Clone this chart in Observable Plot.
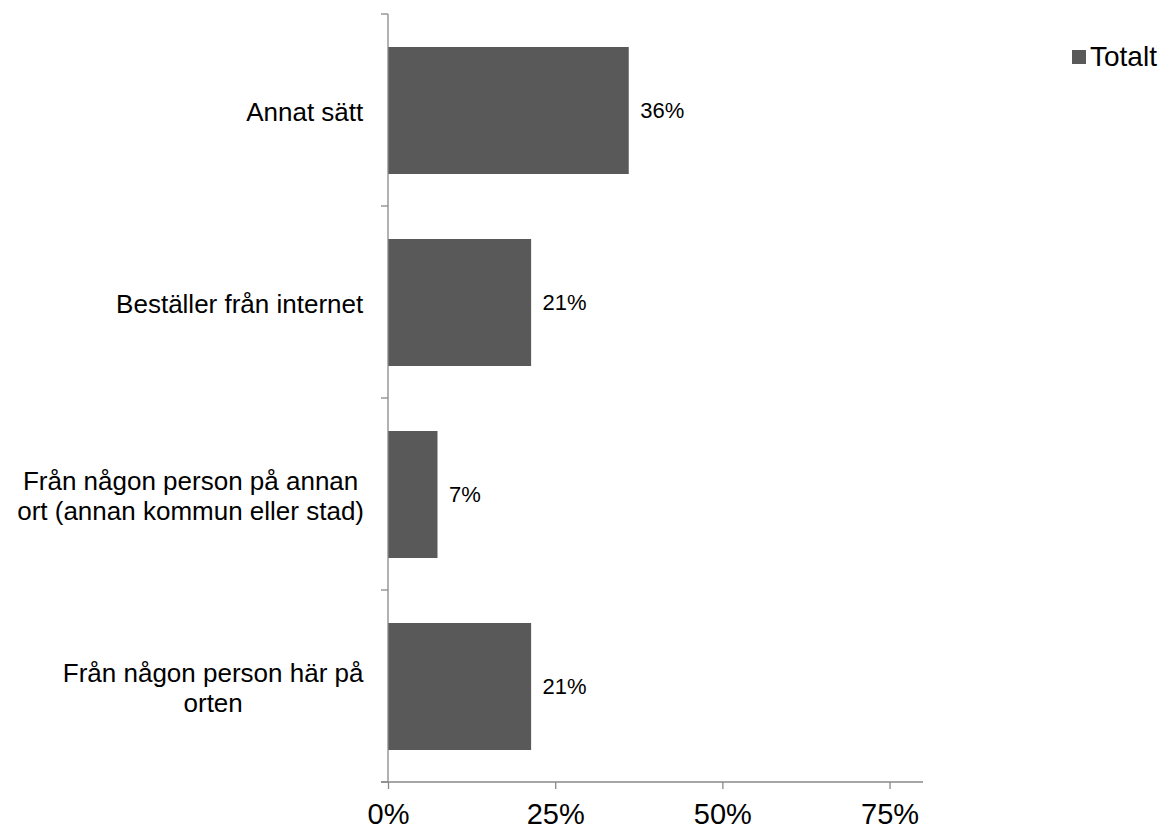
<!DOCTYPE html>
<html>
<head>
<meta charset="utf-8">
<script src="https://cdn.jsdelivr.net/npm/d3@7"></script>
<script src="https://cdn.jsdelivr.net/npm/@observablehq/plot@0.6"></script>
<style>
  html, body { margin: 0; padding: 0; background: #fff; }
  #wrap { position: relative; width: 1160px; height: 834px; font-family: "Liberation Sans", Arial, sans-serif; }
  #legend { position: absolute; left: 1072px; top: 40px; }
  #legend svg { margin-right: 4px !important; }
</style>
</head>
<body>
<div id="wrap"><div id="legend"></div></div>
<script>
// ---- data ----
const categories = [
  "Annat sätt",
  "Beställer från internet",
  "Från någon person på annan\nort (annan kommun eller stad)",
  "Från någon person här på\norten"
];
const values = [0.36, 0.214, 0.074, 0.214];
const valueLabels = ["36%", "21%", "7%", "21%"];
const xTicks = [0, 0.25, 0.5, 0.75];
const xTickLabels = ["0%", "25%", "50%", "75%"];
const seriesName = "Totalt";
const xDomain = [0, 0.8];

// ---- styles ----
const barColor = "#595959";
const axisColor = "#898989";
const fontFamily = "'Liberation Sans', Arial, sans-serif";

const data = categories.map((c, i) => ({cat: c, value: values[i], label: valueLabels[i]}));

// y-axis line, boundary ticks and x baseline drawn from the chart's own scales/frame
function frameTicks(index, scales, values, dimensions) {
  const {x} = scales;
  const {height, marginTop, marginBottom} = dimensions;
  const top = marginTop, bottom = height - marginBottom;
  const n = categories.length;
  const edges = d3.range(n + 1).map(i => top + i * (bottom - top) / n);
  const x0 = x(xDomain[0]);
  const g = d3.create("svg:g").attr("stroke", axisColor).attr("stroke-width", 1.3).attr("fill", "none");
  g.append("line").attr("x1", x0).attr("x2", x0).attr("y1", top).attr("y2", bottom);
  g.selectAll(".yt").data(edges).join("line").attr("x1", x0 - 7).attr("x2", x0).attr("y1", d => d).attr("y2", d => d);
  g.append("line").attr("x1", x0 - 7).attr("x2", x(xDomain[1])).attr("y1", bottom).attr("y2", bottom);
  return g.node();
}

const tickFmt = d => xTickLabels[xTicks.indexOf(d)];

const chart = Plot.plot({
  width: 1160,
  height: 834,
  marginLeft: 388,
  marginRight: 237,
  marginTop: 14,
  marginBottom: 52,
  style: {fontFamily, fontSize: "28px", color: "#000", background: "#fff"},
  x: {domain: xDomain, axis: null, label: null},
  y: {domain: categories, paddingInner: 0.34, paddingOuter: 0.17, axis: null, label: null},
  marks: [
    Plot.barX(data, {x: "value", y: "cat", fill: barColor}),
    frameTicks,
    Plot.axisX(xTicks, {tickSize: 7, tickPadding: 14, tickFormat: tickFmt, stroke: axisColor, strokeWidth: 1.3, fill: "#000", fontSize: 29, label: null}),
    Plot.text(data, {x: "value", y: "cat", text: "label", dx: 11, textAnchor: "start", fontSize: 22, fill: "#000"}),
    Plot.text(data, {x: 0, y: "cat", text: "cat", textAnchor: "middle", lineHeight: 1.15, fontSize: 26, fill: "#000"})
  ]
});

document.getElementById("wrap").insertBefore(chart, document.getElementById("legend"));

// right-align each category block (lines centered within the block), like the original
const svgRect = chart.getBoundingClientRect();
const rightEdge = 364;
const flatCats = categories.map(c => c.replace(/\n/g, ""));
d3.select(chart).selectAll("text").each(function() {
  if (!flatCats.includes(this.textContent)) return;
  const r = this.getBoundingClientRect();
  const shift = rightEdge - (r.right - svgRect.left);
  const t = this.getAttribute("transform") || "";
  this.setAttribute("transform", (t + ` translate(${shift},0)`).trim());
});

const legend = Plot.legend({
  color: {type: "ordinal", domain: [seriesName], range: [barColor]},
  legend: "swatches",
  swatchSize: 14,
  style: {fontFamily, fontSize: "28px", color: "#000", marginLeft: "0px"}
});
document.getElementById("legend").appendChild(legend);
</script>
</body>
</html>
